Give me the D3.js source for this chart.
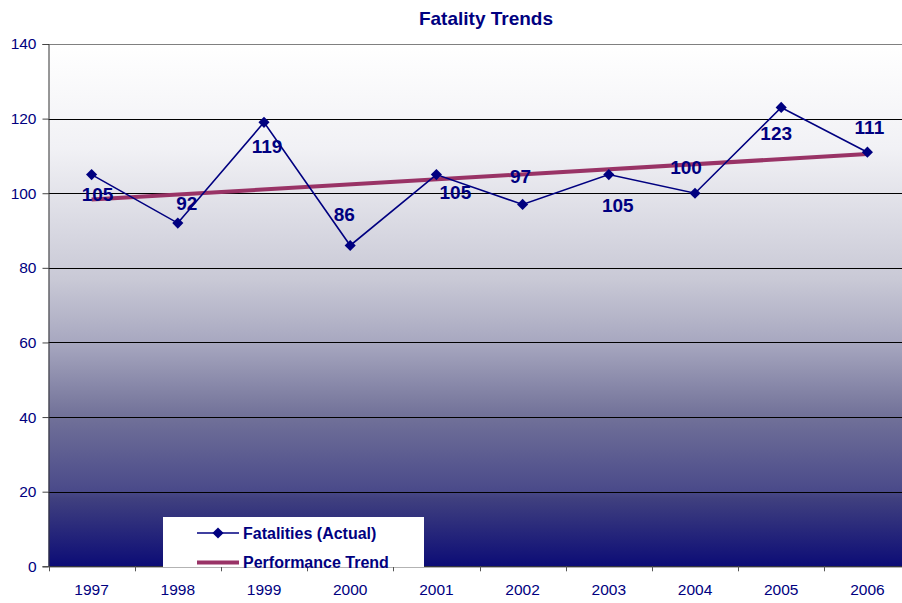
<!DOCTYPE html>
<html>
<head>
<meta charset="utf-8">
<script src="https://cdn.jsdelivr.net/npm/d3@7"></script>
<style>
  body { margin: 0; background: #fff; }
  svg { display: block; font-family: "Liberation Sans", Arial, sans-serif; }
</style>
</head>
<body>
<svg width="902" height="603"></svg>
<script>
// chart data
var years = ["1997", "1998", "1999", "2000", "2001", "2002", "2003", "2004", "2005", "2006"];
var fatalities = [105, 92, 119, 86, 105, 97, 105, 100, 123, 111];
var trendYears = ["1997", "2006"];
var trendValues = [98.3, 110.5];
var yTicks = [0, 20, 40, 60, 80, 100, 120, 140];

// where each data label sits relative to its point (dx, dy)
var labelOffsets = [[6, 20], [9, -20], [3, 24], [-6, -31], [19, 18], [-2, -28], [9, 31], [-9, -26], [-5, 26], [2, -25]];

var svg = d3.select("svg"),
    navy = "#000080",
    plotLeft = 48.5, plotRight = 910.5, plotTop = 44, plotBottom = 566.3;

var x = d3.scaleBand()
    .domain(years)
    .range([plotLeft, plotRight]);

var y = d3.scaleLinear()
    .domain([0, 140])
    .range([plotBottom, plotTop]);

function cx(d) { return x(d) + x.bandwidth() / 2; }

// background gradient, white down to navy
var grad = svg.append("defs").append("linearGradient")
    .attr("id", "bg")
    .attr("x1", 0).attr("y1", 0).attr("x2", 0).attr("y2", 1);
[[0, "#ffffff"], [0.2, "#f1f1f5"], [0.45, "#c9c9d6"], [0.57, "#a8a8c0"], [0.71, "#727299"],
 [0.855, "#4a4a8a"], [0.87, "#40407f"], [1, "#0c0c76"]].forEach(function(s) {
  grad.append("stop").attr("offset", s[0]).attr("stop-color", s[1]);
});

svg.append("rect")
    .attr("x", plotLeft).attr("y", plotTop)
    .attr("width", plotRight - plotLeft).attr("height", plotBottom - plotTop)
    .attr("fill", "url(#bg)");

// gridlines
svg.append("g")
    .selectAll("line")
    .data(yTicks.filter(function(d) { return d > 0; }))
    .enter().append("line")
    .attr("x1", plotLeft).attr("x2", plotRight)
    .attr("y1", function(d) { return Math.round(y(d)) + 0.5; })
    .attr("y2", function(d) { return Math.round(y(d)) + 0.5; })
    .attr("stroke", function(d) { return d == 140 ? "#808080" : "#000"; })
    .attr("stroke-width", 1);

// y axis
var yAxis = svg.append("g")
    .attr("transform", "translate(" + plotLeft + ",0)")
    .call(d3.axisLeft(y).tickValues(yTicks).tickSize(6).tickPadding(6));
yAxis.select(".domain").attr("stroke", "#333");
yAxis.selectAll(".tick line").attr("stroke", "#444");
yAxis.selectAll("text")
    .attr("fill", navy)
    .style("font-size", "15.5px");

// x axis labels
var xAxis = svg.append("g")
    .attr("transform", "translate(0," + plotBottom + ")")
    .call(d3.axisBottom(x).tickSize(0).tickPadding(18));
xAxis.select(".domain").attr("stroke", "#000");
xAxis.selectAll("text")
    .attr("fill", navy)
    .style("font-size", "15.5px");

// x ticks sit between categories
svg.append("g")
    .selectAll("line")
    .data(years)
    .enter().append("line")
    .attr("x1", function(d) { return Math.round(x(d)) + 0.5; })
    .attr("x2", function(d) { return Math.round(x(d)) + 0.5; })
    .attr("y1", plotBottom).attr("y2", plotBottom + 5)
    .attr("stroke", "#555");

// trend line
var trendLine = d3.line()
    .x(function(d, i) { return cx(trendYears[i]); })
    .y(function(d) { return y(d); });

svg.append("path")
    .datum(trendValues)
    .attr("d", trendLine)
    .attr("fill", "none")
    .attr("stroke", "#993366")
    .attr("stroke-width", 4);

// actual line
var line = d3.line()
    .x(function(d, i) { return cx(years[i]); })
    .y(function(d) { return y(d); });

svg.append("path")
    .datum(fatalities)
    .attr("d", line)
    .attr("fill", "none")
    .attr("stroke", navy)
    .attr("stroke-width", 1.6);

var diamond = d3.symbol().type(d3.symbolSquare).size(62);

svg.append("g")
    .selectAll("path")
    .data(fatalities)
    .enter().append("path")
    .attr("d", diamond)
    .attr("transform", function(d, i) { return "translate(" + cx(years[i]) + "," + y(d) + ") rotate(45)"; })
    .attr("fill", navy);

// data labels
svg.append("g")
    .selectAll("text")
    .data(fatalities)
    .enter().append("text")
    .attr("x", function(d, i) { return cx(years[i]) + labelOffsets[i][0]; })
    .attr("y", function(d, i) { return y(d) + labelOffsets[i][1]; })
    .attr("dy", "0.36em")
    .attr("text-anchor", "middle")
    .attr("fill", navy)
    .attr("font-weight", "bold")
    .style("font-size", "19px")
    .text(function(d) { return d; });

// title
svg.append("text")
    .attr("x", 486)
    .attr("y", 25)
    .attr("text-anchor", "middle")
    .attr("fill", navy)
    .attr("font-weight", "bold")
    .style("font-size", "19px")
    .text("Fatality Trends");

// legend
var legend = svg.append("g")
    .attr("transform", "translate(163,517)");

legend.append("rect")
    .attr("width", 261).attr("height", 50)
    .attr("fill", "#fff");

legend.append("line")
    .attr("x1", 34).attr("x2", 76).attr("y1", 16).attr("y2", 16)
    .attr("stroke", navy).attr("stroke-width", 1.6);
legend.append("path")
    .attr("d", diamond)
    .attr("transform", "translate(55,16) rotate(45)")
    .attr("fill", navy);
legend.append("line")
    .attr("x1", 34).attr("x2", 76).attr("y1", 45.5).attr("y2", 45.5)
    .attr("stroke", "#993366").attr("stroke-width", 4);

legend.selectAll("text")
    .data(["Fatalities (Actual)", "Performance Trend"])
    .enter().append("text")
    .attr("x", 80)
    .attr("y", function(d, i) { return 16 + i * 29.5; })
    .attr("dy", "0.36em")
    .attr("fill", navy)
    .attr("font-weight", "bold")
    .style("font-size", "16px")
    .text(function(d) { return d; });
</script>
</body>
</html>
